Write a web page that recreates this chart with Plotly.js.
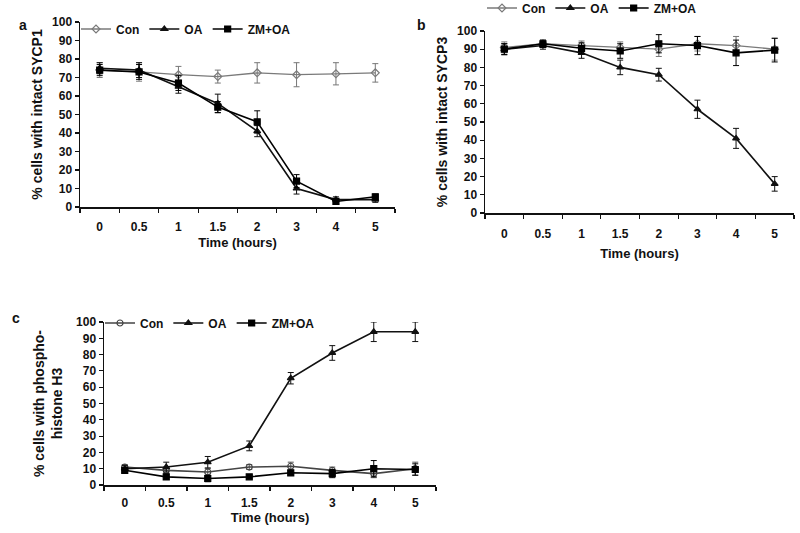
<!DOCTYPE html>
<html>
<head>
<meta charset="utf-8">
<script src="https://cdn.plot.ly/plotly-3.0.1.min.js"></script>
<style>html,body{margin:0;padding:0;background:#fff;}#chart{width:800px;height:533px;}</style>
</head>
<body>
<div id="chart"></div>
<script>
// ---- data ----
const timeCats = ["0","0.5","1","1.5","2","3","4","5"];
const seriesNames = ["Con","OA","ZM+OA"];

// panel a: % cells with intact SYCP1
const aCon    = [74, 73, 71.5, 70.5, 72.5, 71.5, 72, 72.5];
const aConErr = [4, 5, 4.5, 3.5, 5.5, 6.5, 6, 5];
const aOA     = [75, 74, 65, 56, 41, 10, 4, 4];
const aOAErr  = [3, 4, 3.5, 5, 3, 3, 1.5, 1.5];
const aZM     = [74, 73, 67, 54, 46, 14, 3, 5.5];
const aZMErr  = [3, 4, 4, 3, 6, 3.5, 1.5, 1.5];

// panel b: % cells with intact SYCP3
const bCon    = [91, 93, 92, 91, 90, 93, 92, 90];
const bConErr = [3, 2, 2.5, 3, 4, 4, 5, 6];
const bOA     = [90, 92, 88, 80, 76, 57, 41, 16];
const bOAErr  = [3, 2, 3, 4, 3.5, 5, 5.5, 4];
const bZM     = [90, 93, 90.5, 89, 93, 92, 88, 89.5];
const bZMErr  = [3, 2, 3, 4, 5, 5, 7, 6.5];

// panel c: % cells with phospho-histone H3
const cCon    = [11, 9, 8, 11, 11.5, 9, 7, 10];
const cConErr = [1.5, 2, 2, 1.5, 2.5, 2, 2.5, 4];
const cOA     = [10, 11, 14, 24, 65.5, 81, 94, 94];
const cOAErr  = [2, 3, 3.5, 3, 3.5, 4.5, 6, 6];
const cZM     = [9, 5, 4, 5, 7.5, 7, 10, 9.5];
const cZMErr  = [1.5, 1.5, 2, 1, 1.5, 2.5, 5, 3.5];

const yTicks = [0,10,20,30,40,50,60,70,80,90,100];

// ---- helpers ----
const W = 800, H = 533;
function trace(y, err, name, xa, ya, leg, style) {
  return {
    type: 'scatter', mode: 'lines+markers',
    x: timeCats, y: y, name: name, xaxis: xa, yaxis: ya, legend: leg,
    line: {color: style.color, width: style.lw || 1.6},
    marker: {symbol: style.symbol, size: style.size, color: style.mcolor || style.color,
             line: {color: style.color, width: 1.2}},
    error_y: {type: 'data', array: err, visible: true, color: style.ecolor || style.color,
              thickness: 1, width: 3}
  };
}
const conA = {color: '#7a7a7a', symbol: 'diamond-open', size: 6, ecolor: '#777', lw: 1.3};
const conC = {color: '#444', symbol: 'circle-open', size: 6, ecolor: '#555'};
const oaS  = {color: '#111', symbol: 'triangle-up', size: 6};
const zmS  = {color: '#000', symbol: 'square', size: 6};

const data = [
  trace(aCon, aConErr, seriesNames[0], 'x', 'y', 'legend', conA),
  trace(aOA,  aOAErr,  seriesNames[1], 'x', 'y', 'legend', oaS),
  trace(aZM,  aZMErr,  seriesNames[2], 'x', 'y', 'legend', zmS),
  trace(bCon, bConErr, seriesNames[0], 'x2', 'y2', 'legend2', conA),
  trace(bOA,  bOAErr,  seriesNames[1], 'x2', 'y2', 'legend2', oaS),
  trace(bZM,  bZMErr,  seriesNames[2], 'x2', 'y2', 'legend2', zmS),
  trace(cCon, cConErr, seriesNames[0], 'x3', 'y3', 'legend3', conC),
  trace(cOA,  cOAErr,  seriesNames[1], 'x3', 'y3', 'legend3', oaS),
  trace(cZM,  cZMErr,  seriesNames[2], 'x3', 'y3', 'legend3', zmS)
];

const FONT = 'Liberation Sans, Arial, sans-serif';
function xax(x0, x1, anchor, lblStand, titleStand) {
  return {
    domain: [x0 / W, x1 / W], anchor: anchor, type: 'category',
    range: [-0.5, 7.5], tickson: 'boundaries',
    showline: true, linecolor: '#111', linewidth: 1.5, mirror: false,
    ticks: 'outside', ticklen: 4, tickcolor: '#111', tickwidth: 1.2,
    ticklabelstandoff: lblStand,
    showgrid: false, zeroline: false,
    tickfont: {family: FONT, size: 12, color: '#111', weight: 'bold'},
    title: {text: '<b>Time (hours)</b>', font: {family: FONT, size: 13, color: '#111'}, standoff: titleStand}
  };
}
function yax(yb, yt, anchor, title, standoff) {
  return {
    domain: [(H - yb) / H, (H - yt) / H], anchor: anchor,
    range: [0, 100], tickvals: yTicks,
    showline: true, linecolor: '#111', linewidth: 1.5,
    ticks: 'outside', ticklen: 4, tickcolor: '#111', tickwidth: 1.2,
    showgrid: false, zeroline: false,
    tickfont: {family: FONT, size: 12, color: '#111', weight: 'bold'},
    title: {text: title, font: {family: FONT, size: 14, color: '#111'}, standoff: standoff}
  };
}
function legend(x, y) {
  return {
    x: x / W, y: (H - y) / H, xanchor: 'left', yanchor: 'middle',
    orientation: 'h', bgcolor: 'rgba(0,0,0,0)', borderwidth: 0,
    font: {family: FONT, size: 12, color: '#111', weight: 'bold'},
    itemwidth: 30, tracegroupgap: 0, traceorder: 'normal'
  };
}

const layout = {
  width: W, height: H,
  margin: {l: 0, r: 0, t: 0, b: 0, pad: 0, autoexpand: false},
  paper_bgcolor: '#fff', plot_bgcolor: 'rgba(0,0,0,0)',
  showlegend: true,
  xaxis: xax(80, 395, 'y', 8, 5),
  yaxis: yax(207, 22, 'x', '<b>% cells with intact SYCP1</b>', 6),
  xaxis2: xax(485, 794, 'y2', 9, 9),
  yaxis2: yax(213, 31, 'x2', '<b>% cells with intact SYCP3</b>', 6),
  xaxis3: xax(104, 436, 'y3', 6, 2),
  yaxis3: yax(485, 322, 'x3', '<b>% cells with phospho-<br>histone H3</b>', 10),
  legend: legend(76, 29),
  legend2: legend(482, 8),
  legend3: legend(100, 323),
  annotations: [
    {text: '<b>a</b>', x: 17 / W, y: (H - 15) / H, xref: 'paper', yref: 'paper', showarrow: false,
     font: {family: FONT, size: 14, color: '#111'}},
    {text: '<b>b</b>', x: 421 / W, y: (H - 15) / H, xref: 'paper', yref: 'paper', showarrow: false,
     font: {family: FONT, size: 14, color: '#111'}},
    {text: '<b>c</b>', x: 10 / W, y: (H - 318) / H, xref: 'paper', yref: 'paper', showarrow: false,
     font: {family: FONT, size: 14, color: '#111'}}
  ]
};

Plotly.newPlot('chart', data, layout, {displayModeBar: false, staticPlot: true});
</script>
</body>
</html>
